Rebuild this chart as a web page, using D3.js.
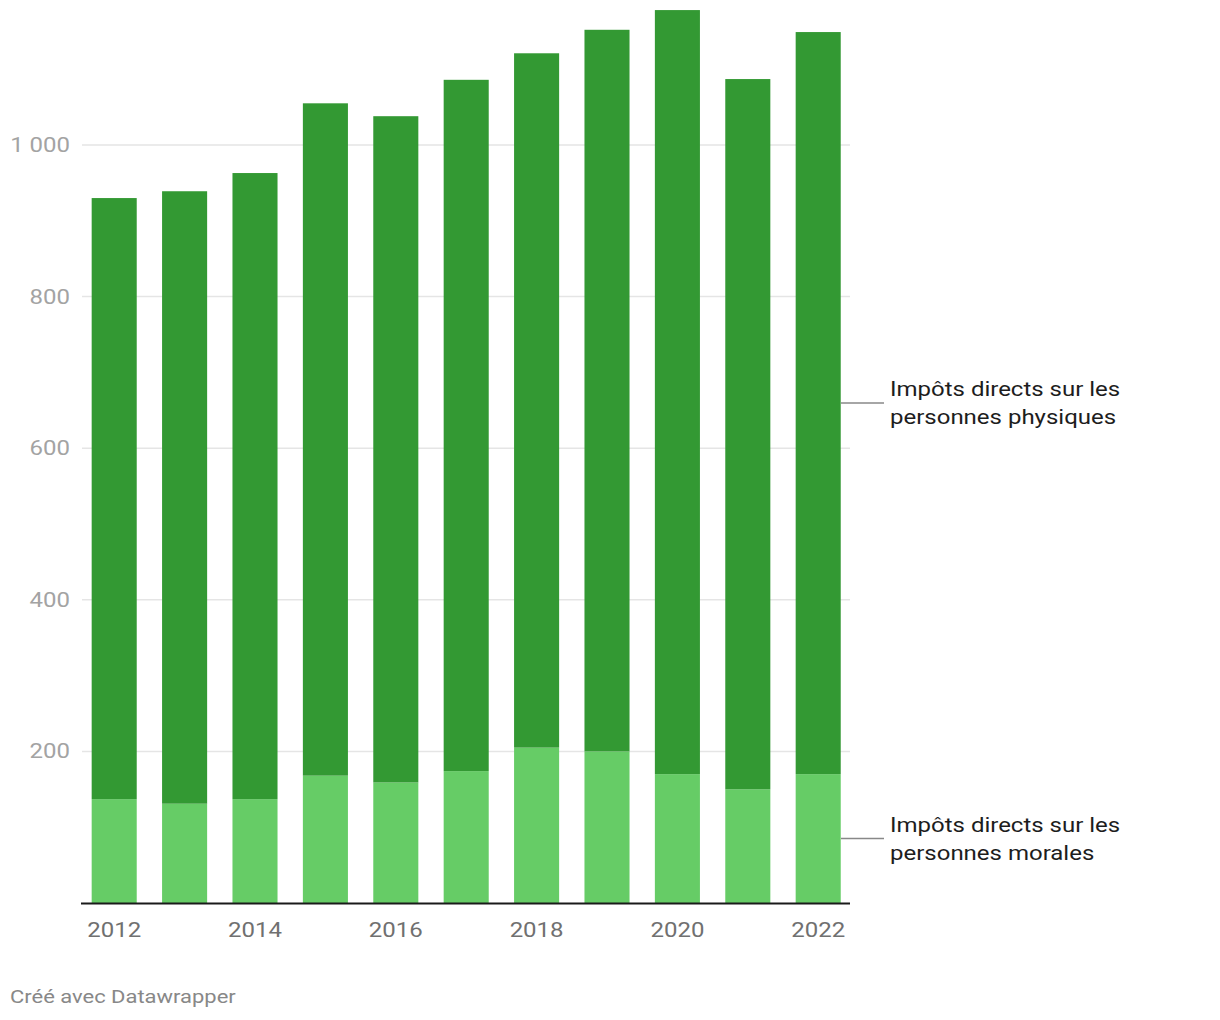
<!DOCTYPE html>
<html><head><meta charset="utf-8">
<script src="https://cdn.jsdelivr.net/npm/d3@7"></script>
<style>
body{margin:0;background:#fff;font-family:Roboto,"Noto Sans",sans-serif;}
</style></head>
<body><svg id="c" width="1220" height="1020"></svg>
<script>
const years = [2012,2013,2014,2015,2016,2017,2018,2019,2020,2021,2022];
const morales = [137,131,137,168,159,174,205,200,170,150,170];
const physiques = [793,808,826,887,879,912,916,952,1008,937,979];
const yTicks = [200,400,600,800,1000];
const xTickYears = [2012,2014,2016,2018,2020,2022];
const labelLines = [["Impôts directs sur les","personnes morales"],["Impôts directs sur les","personnes physiques"]];
const colors = ["#66cc66","#339933"];
const SX = 1.2; // horizontal glyph stretch seen in the reference

const svg = d3.select("#c");
const x = d3.scaleBand().domain(years).range([79,853.4]).paddingInner(0.36).paddingOuter(0.18);
const y = d3.scaleLinear().domain([0,1000]).range([903,145]);

const data = years.map((yr,i)=>({year:yr, morales:morales[i], physiques:physiques[i]}));
const stack = d3.stack().keys(["morales","physiques"])(data);

function txt(sel, tx, ty){
  return sel.attr("transform",(d,i)=>`translate(${typeof tx==="function"?tx(d,i):tx},${typeof ty==="function"?ty(d,i):ty}) scale(${SX},1)`);
}

// gridlines
svg.append("g").selectAll("line").data(yTicks).join("line")
  .attr("x1",82).attr("x2",850).attr("y1",d=>y(d)).attr("y2",d=>y(d))
  .attr("stroke","#e5e5e5").attr("stroke-width",1.5);
// y labels
txt(svg.append("g").selectAll("text").data(yTicks).join("text"),70,d=>y(d))
  .attr("dy","0.35em").attr("text-anchor","end")
  .attr("font-size",20).attr("fill","#a3a3a3")
  .text(d=>d3.format(",")(d).replace(/,/g," "));

// bars
svg.append("g").selectAll("g").data(stack).join("g").attr("fill",(d,i)=>colors[i])
  .selectAll("rect").data(d=>d).join("rect")
  .attr("x",d=>x(d.data.year)).attr("width",x.bandwidth())
  .attr("y",d=>y(d[1])).attr("height",d=>y(d[0])-y(d[1]));

// baseline
svg.append("line").attr("x1",81).attr("x2",850).attr("y1",y(0)+0.5).attr("y2",y(0)+0.5)
  .attr("stroke","#1a1a1a").attr("stroke-width",2);

// x labels
txt(svg.append("g").selectAll("text").data(xTickYears).join("text"),d=>x(d)+x.bandwidth()/2,930)
  .attr("dy","0.35em").attr("text-anchor","middle").attr("font-size",20).attr("fill","#707070").text(d=>d);

// series labels
const last = stack.map(s=>s[s.length-1]);
last.forEach((d,i)=>{
  const cy = (y(d[0])+y(d[1]))/2;
  svg.append("line").attr("x1",841).attr("x2",884).attr("y1",cy).attr("y2",cy)
    .attr("stroke","#888").attr("stroke-width",1.5);
  labelLines[i].forEach((l,j)=>{
    txt(svg.append("text"),890,cy-14+j*28).attr("dy","0.35em")
      .attr("font-size",20).attr("fill","#1d1d1d").text(l);
  });
});

txt(svg.append("text"),10,997).attr("dy","0.35em").attr("font-size",18.3)
  .attr("fill","#888").text("Créé avec Datawrapper");
</script></body></html>
